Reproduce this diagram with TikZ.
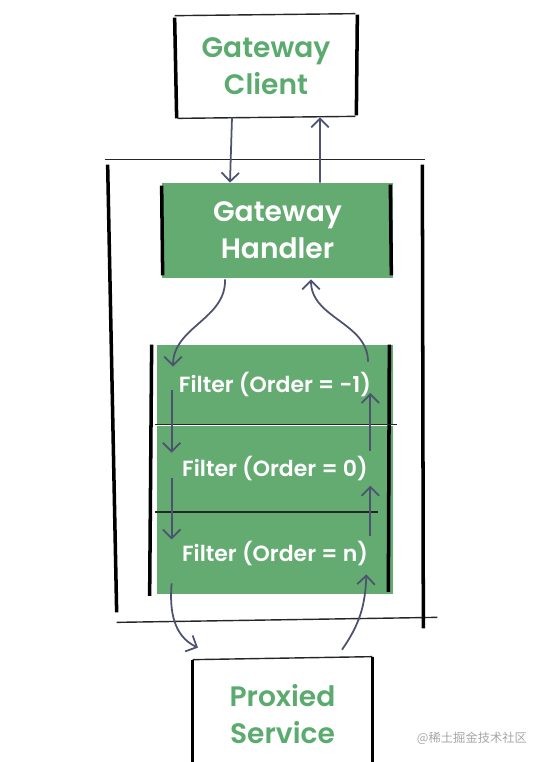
\documentclass[tikz,border=0pt]{standalone}
\usepackage{fontspec}
\setmainfont{Poppins}[BoldFont={Poppins SemiBold}]
\newfontfamily\cjk{Noto Sans CJK SC}
\usepackage{tikz}
\usetikzlibrary{arrows.meta,positioning}

\definecolor{boxgreen}{RGB}{99,171,112}
\definecolor{txtgreen}{RGB}{91,170,110}
\definecolor{arrowc}{RGB}{77,82,112}

\begin{document}
\begin{tikzpicture}[x=0.02cm,y=-0.02cm,>={Straight Barb[length=5pt,width=10pt]},
                    node distance=0pt]
  \tikzstyle{plain}=[rectangle,inner sep=0pt,align=center,
                     font=\bfseries\fontsize{16}{21}\selectfont]
  \tikzstyle{whitebox}=[plain,text=txtgreen]
  \tikzstyle{greenbox}=[plain,fill=boxgreen,text=white]
  \tikzstyle{filter}=[greenbox,minimum width=236*0.02cm,
                      font=\bfseries\fontsize{12.5}{15}\selectfont]
  \tikzstyle{side}=[line width=2pt,black]
  \tikzstyle{edgeline}=[line width=0.8pt,black!85]
  \tikzstyle{flow}=[->,line width=1pt,arrowc]

  \useasboundingbox (0,0) rectangle (539,762);

  \node[plain]    (frame)   at (266,390) [minimum width=312*0.02cm,minimum height=460*0.02cm] {};
  \node[whitebox] (client)  at (266,66)  [minimum width=180*0.02cm,minimum height=102*0.02cm] {Gateway\\Client};
  \node[greenbox] (handler) at (277.5,230.5) [minimum width=231*0.02cm,minimum height=95*0.02cm] {Gateway\\Handler};

  \node[filter] (f1) at (275,385) [minimum height=80*0.02cm] {Filter (Order = -1)};
  \node[filter] (f2) [below=of f1, minimum height=86*0.02cm] {Filter (Order = 0)};
  \node[filter] (f3) [below=of f2, minimum height=82*0.02cm] {Filter (Order = n)};

  \node[whitebox] (proxied) at (282.5,714) [minimum width=179*0.02cm,minimum height=112*0.02cm] {Proxied\\Service};
  \node (mark) at (472,738) [text=black!35,font=\cjk\fontsize{7}{8}\selectfont] {@稀土掘金技术社区};

  % client box
  \draw[edgeline] ([shift={(-1,1)}]client.north west) -- ([shift={(-1,-1)}]client.north east);
  \draw[edgeline] ([shift={(2,1)}]client.south west) -- ([shift={(-1,-1)}]client.south east);
  \draw[side] ([shift={(-1,3)}]client.north west) -- ([shift={(1,1)}]client.south west);
  \draw[side] ([shift={(1,0)}]client.north east) -- ([shift={(0,-2)}]client.south east);

  % outer frame
  \draw[edgeline] ([shift={(-5,0)}]frame.north west) -- ([shift={(3,0)}]frame.north east);
  \draw[edgeline] ([shift={(7,2)}]frame.south west) -- ([shift={(15,-3)}]frame.south east);
  \draw[side] ([shift={(-2,5)}]frame.north west) -- ([shift={(7,-8)}]frame.south west);
  \draw[side] ([shift={(0,5)}]frame.north east) -- ([shift={(1,8)}]frame.south east);

  % handler
  \draw[side] ([shift={(0,3)}]handler.north west) -- ([shift={(1,-3)}]handler.south west);
  \draw[side] ([shift={(-3,2)}]handler.north east) -- ([shift={(-2,-3)}]handler.south east);

  % filter chain
  \draw[side] ([shift={(-5,0)}]f1.north west) -- ([shift={(-7,1)}]f3.south west);
  \draw[side] ([shift={(-4,0)}]f1.north east) -- ([shift={(-5,-3)}]f3.south east);
  \draw[edgeline] ([shift={(-2,-1)}]f1.south west) -- ([shift={(4,-1)}]f1.south east);
  \draw[edgeline] ([shift={(-2,0)}]f2.south west) -- ([shift={(-15,0)}]f2.south east);

  % proxied service
  \draw[edgeline] ([shift={(0,2)}]proxied.north west) -- ([shift={(0,-1)}]proxied.north east);
  \draw[side] ([shift={(0,2)}]proxied.north west) -- (proxied.south west);
  \draw[side] ([shift={(0,-1)}]proxied.north east) -- (proxied.south east);

  % request and response
  \draw[flow] ([shift={(-34,0)}]client.south) -- ([shift={(-47.5,0)}]handler.north);
  \draw[flow] ([shift={(42.5,0)}]handler.north) -- ([shift={(54,0)}]client.south);
  \draw[flow] ([shift={(-52.5,1)}]handler.south) to[out=-88,in=90] ([shift={(-102,22)}]f1.north);
  \draw[flow] ([shift={(93,17)}]f1.north) to[out=90,in=-90] ([shift={(33.5,1)}]handler.south);
  \draw[flow] ([shift={(15,5)}]f1.west) -- ([shift={(15,-16)}]f2.west);
  \draw[flow] ([shift={(15,9)}]f2.west) -- ([shift={(15,-14)}]f3.west);
  \draw[flow] ([shift={(15,30)}]f3.west) to[out=-95,in=155] ([shift={(-84.5,-10)}]proxied.north);
  \draw[flow] ([shift={(59.5,-8)}]proxied.north) to[out=55,in=-92] ([shift={(-27,21)}]f3.east);
  \draw[flow] ([shift={(-23,-17)}]f3.east) -- ([shift={(-23,17)}]f2.east);
  \draw[flow] ([shift={(-23,-18)}]f2.east) -- ([shift={(-23,8)}]f1.east);
\end{tikzpicture}
\end{document}
